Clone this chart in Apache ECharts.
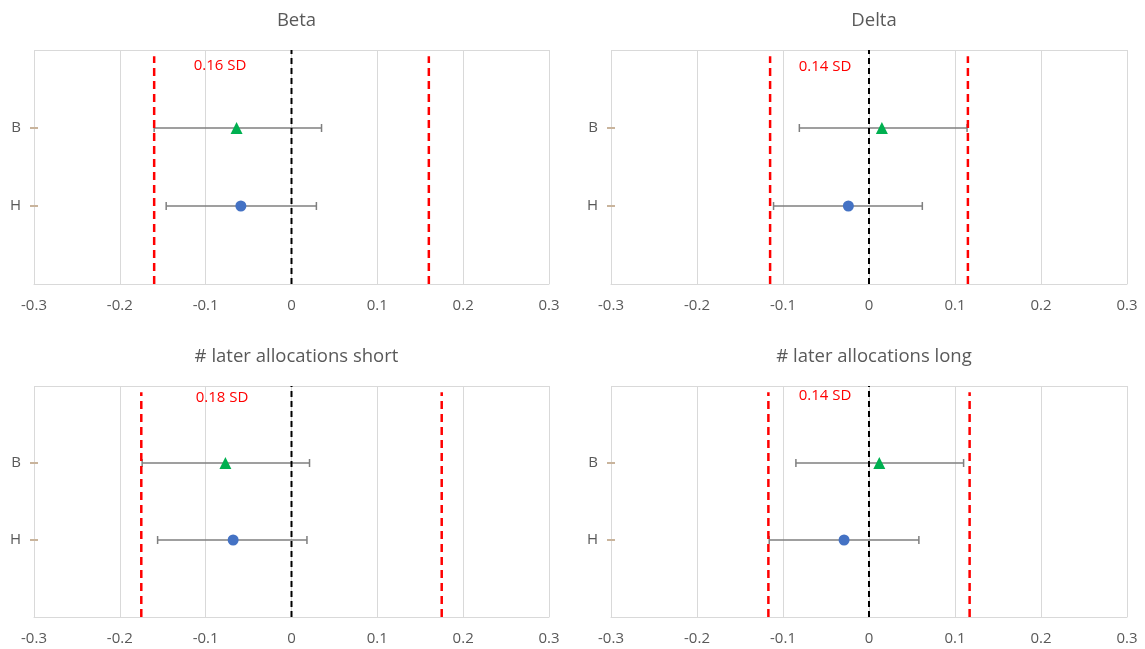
<!DOCTYPE html>
<html>
<head>
<meta charset="utf-8">
<script src="https://cdn.jsdelivr.net/npm/echarts@6/dist/echarts.min.js"></script>
<style>
  html, body { margin: 0; padding: 0; background: #fff; }
  #main { width: 1145px; height: 649px; }
</style>
</head>
<body>
<div id="main"></div>
<script>
// panel data
var titles = ['Beta', 'Delta', '# later allocations short', '# later allocations long'];
var sdLabels = ['0.16 SD', '0.14 SD', '0.18 SD', '0.14 SD'];
var sdLines = [0.160, 0.115, 0.175, 0.117];
var bMean = [-0.064, 0.015, -0.077, 0.012];
var bLow = [-0.160, -0.081, -0.174, -0.085];
var bHigh = [0.035, 0.114, 0.021, 0.110];
var hMean = [-0.059, -0.024, -0.068, -0.029];
var hLow = [-0.146, -0.111, -0.156, -0.116];
var hHigh = [0.029, 0.062, 0.018, 0.058];
var rowNames = ['H', 'B'];   // y = 1, y = 2
var xTicks = [-0.3, -0.2, -0.1, 0, 0.1, 0.2, 0.3];

var FONT = 'Open Sans';
var dom = document.getElementById('main');
var myChart = echarts.init(dom);

// layout of the four panels (pixels)
var grids = [
    {left: 34, width: 515, top: 50, height: 234},
    {left: 611, width: 516, top: 50, height: 234},
    {left: 34, width: 515, top: 386, height: 231},
    {left: 611, width: 516, top: 386, height: 231}
];

var option = {
    animation: false,
    backgroundColor: '#fff',
    title: [],
    grid: [],
    xAxis: [],
    yAxis: [],
    graphic: [],
    series: []
};

for (var i = 0; i < 4; i++) {
    var g = grids[i];
    option.grid.push({left: g.left, top: g.top, width: g.width, height: g.height, containLabel: false});
    option.title.push({
        text: titles[i],
        left: g.left + g.width / 2,
        top: g.top - 44,
        textAlign: 'center',
        textStyle: {fontFamily: FONT, fontSize: 18.5, fontWeight: 'normal', color: '#595959'}
    });
    option.xAxis.push({
        type: 'value',
        gridIndex: i,
        min: xTicks[0],
        max: xTicks[xTicks.length - 1],
        interval: 0.1,
        axisLine: {show: true, lineStyle: {color: '#d9d9d9', width: 1}},
        axisTick: {show: false},
        axisLabel: {
            margin: 14,
            fontFamily: FONT,
            fontSize: 15,
            color: '#595959',
            formatter: function (v) {
                var s = Math.round(v * 10) / 10;
                return s === 0 ? '0' : String(s);
            }
        },
        splitLine: {show: true, lineStyle: {color: '#d9d9d9', width: 1}}
    });
    // y axis carrying the data and the top/bottom grid lines
    option.yAxis.push({
        type: 'value',
        gridIndex: i,
        min: 0,
        max: 3,
        interval: 3,
        axisLine: {show: false},
        axisTick: {show: false},
        axisLabel: {show: false},
        splitLine: {show: true, lineStyle: {color: '#d9d9d9', width: 1}}
    });
    // second y axis just for the B / H labels and the crossing ticks
    option.yAxis.push({
        type: 'value',
        gridIndex: i,
        position: 'left',
        offset: -4,
        min: 0,
        max: 3,
        interval: 1,
        axisLine: {show: true, lineStyle: {color: '#d9d9d9', opacity: 0}},
        axisTick: {show: true, customValues: [1, 2], length: 8, lineStyle: {color: '#c9b49c', width: 2}},
        axisLabel: {
            customValues: [1, 2],
            margin: 17,
            fontFamily: FONT,
            fontSize: 15,
            color: '#595959',
            formatter: function (v) { return rowNames[Math.round(v) - 1]; }
        },
        splitLine: {show: false}
    });
    var yi = i * 2;

    // error bars
    option.series.push({
        type: 'line', xAxisIndex: i, yAxisIndex: yi, silent: true,
        data: [[bLow[i], 2], [bHigh[i], 2]],
        symbol: 'rect', symbolSize: [1.5, 8], showSymbol: true,
        itemStyle: {color: '#7f7f7f'},
        lineStyle: {color: '#7f7f7f', width: 1.5}, z: 2
    });
    option.series.push({
        type: 'line', xAxisIndex: i, yAxisIndex: yi, silent: true,
        data: [[hLow[i], 1], [hHigh[i], 1]],
        symbol: 'rect', symbolSize: [1.5, 8], showSymbol: true,
        itemStyle: {color: '#7f7f7f'},
        lineStyle: {color: '#7f7f7f', width: 1.5}, z: 2
    });
    // zero line
    option.series.push({
        type: 'line', xAxisIndex: i, yAxisIndex: yi, silent: true,
        data: [[0, 0], [0, 3]], symbol: 'none',
        lineStyle: {color: '#000', width: 2, type: [6, 4]}, z: 3
    });
    // +/- SD lines
    option.series.push({
        type: 'line', xAxisIndex: i, yAxisIndex: yi, silent: true,
        data: [[-sdLines[i], 0], [-sdLines[i], 2.92]], symbol: 'none',
        lineStyle: {color: '#ff0000', width: 2.5, type: [8, 5]}, z: 3
    });
    option.series.push({
        type: 'line', xAxisIndex: i, yAxisIndex: yi, silent: true,
        data: [[sdLines[i], 0], [sdLines[i], 2.92]], symbol: 'none',
        lineStyle: {color: '#ff0000', width: 2.5, type: [8, 5]}, z: 3
    });
    // points
    option.series.push({
        type: 'scatter', xAxisIndex: i, yAxisIndex: yi,
        data: [[bMean[i], 2]], symbol: 'triangle', symbolSize: 12,
        itemStyle: {color: '#00b050', opacity: 1}, z: 5
    });
    option.series.push({
        type: 'scatter', xAxisIndex: i, yAxisIndex: yi,
        data: [[hMean[i], 1]], symbol: 'circle', symbolSize: 11,
        itemStyle: {color: '#4472c4', opacity: 1}, z: 5
    });
}

// SD text labels
var sdLabelPos = [[220, 66], [825, 67], [222, 398], [825, 396]];
for (var k = 0; k < 4; k++) {
    option.graphic.push({
        type: 'text',
        x: sdLabelPos[k][0],
        y: sdLabelPos[k][1],
        style: {
            text: sdLabels[k],
            fill: '#ff0000',
            font: '15px "' + FONT + '"',
            textAlign: 'center',
            textVerticalAlign: 'middle'
        },
        z: 10
    });
}

if (option && typeof option === 'object') {
    myChart.setOption(option, true);
}
</script>
</body>
</html>
